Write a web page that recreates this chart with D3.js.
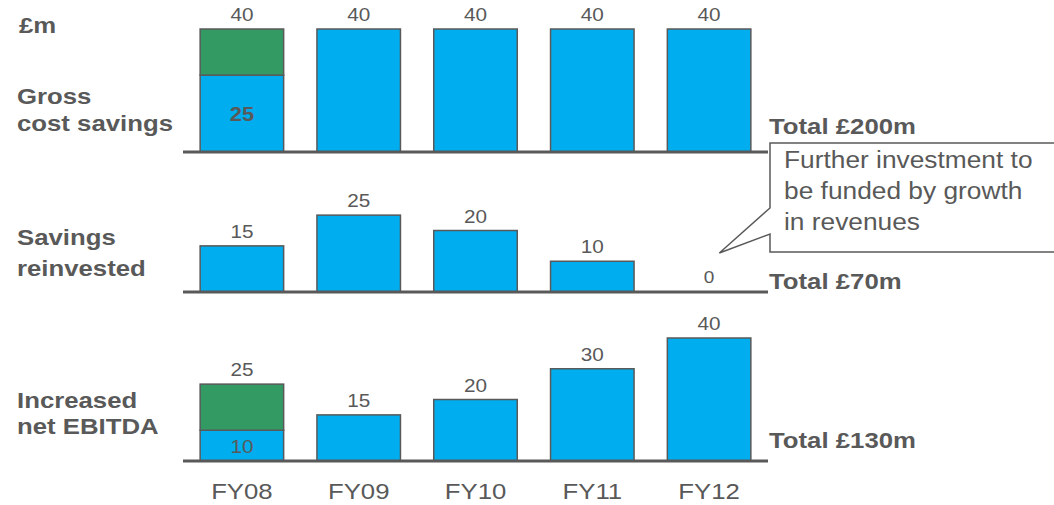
<!DOCTYPE html>
<html>
<head>
<meta charset="utf-8">
<script src="https://cdn.jsdelivr.net/npm/d3@7"></script>
<style>
	body { margin: 0; background: #fff; }
	text { font-family: "Liberation Sans", Arial, sans-serif; fill: #595959; }
</style>
</head>
<body>
<script>
const w = 1054
const h = 505
const stretch = 1.12

// data
const years = ["FY08", "FY09", "FY10", "FY11", "FY12"]
const grossBase = [25, 40, 40, 40, 40]
const grossTop = [15, 0, 0, 0, 0]
const reinvested = [15, 25, 20, 10, 0]
const netBase = [10, 15, 20, 30, 40]
const netTop = [15, 0, 0, 0, 0]
const totals = ["Total £200m", "Total £70m", "Total £130m"]
const rowNames = [["Gross", "cost savings"], ["Savings", "reinvested"], ["Increased", "net EBITDA"]]
const calloutLines = ["Further investment to", "be funded by growth", "in revenues"]

const blue = "#00adee"
const green = "#349a63"
const grey = "#595959"

const svg = d3.select("body").append("svg")
	.attr("width", w)
	.attr("height", h)

let xScale = d3.scaleBand()
	.domain(years)
	.range([183.5, 767.5])
	.paddingInner(0.285)
	.paddingOuter(0.1425)

// same px per £m in every panel
let hScale = d3.scaleLinear()
	.domain([0, 40])
	.range([0, 123])

let label = function(g, x, y, str, size, weight, anchor) {
	return g.append("text")
		.attr("transform", "translate(" + x + "," + y + ") scale(" + stretch + ",1)")
		.attr("font-size", size)
		.attr("font-weight", weight || "normal")
		.attr("text-anchor", anchor || "start")
		.text(str)
}

let panels = [
	{ base: 152, low: grossBase, high: grossTop, inner: { i: 0, text: "25", weight: "bold", size: 19.5 } },
	{ base: 292, low: reinvested, high: [0, 0, 0, 0, 0] },
	{ base: 461, low: netBase, high: netTop, inner: { i: 0, text: "10", weight: "normal", size: 18.5 } }
]
let nameY = [[104, 131], [245, 276], [408, 434]]
let totalY = [134, 289, 448]

panels.forEach(function(p, k) {
	let g = svg.append("g")
	let rows = years.map((y, i) => ({ year: y, low: p.low[i], high: p.high[i] }))

	// lower segments
	g.selectAll("rect.low")
		.data(rows.filter(d => d.low > 0))
		.enter()
		.append("rect")
		.attr("x", d => xScale(d.year))
		.attr("y", d => p.base - hScale(d.low))
		.attr("width", xScale.bandwidth())
		.attr("height", d => hScale(d.low))
		.attr("fill", blue)
		.attr("stroke", grey)
		.attr("stroke-width", 1.5)

	// upper (green) segments
	g.selectAll("rect.high")
		.data(rows.filter(d => d.high > 0))
		.enter()
		.append("rect")
		.attr("x", d => xScale(d.year))
		.attr("y", d => p.base - hScale(d.low + d.high))
		.attr("width", xScale.bandwidth())
		.attr("height", d => hScale(d.high))
		.attr("fill", green)
		.attr("stroke", grey)
		.attr("stroke-width", 1.5)

	// baseline
	g.append("line")
		.attr("x1", 183).attr("x2", 768)
		.attr("y1", p.base).attr("y2", p.base)
		.attr("stroke", grey)
		.attr("stroke-width", 3)

	// value labels
	rows.forEach(function(d) {
		let v = d.low + d.high
		let cx = xScale(d.year) + xScale.bandwidth() / 2
		if (v > 0) {
			label(g, cx, p.base - hScale(v) - 8, v, 18.5, "normal", "middle")
		} else {
			label(g, cx, p.base - 9, v, 17, "normal", "middle")
		}
	})

	if (p.inner) {
		let d = rows[p.inner.i]
		let cx = xScale(d.year) + xScale.bandwidth() / 2
		let cy = p.base - hScale(d.low) / 2
		label(g, cx, cy + 7, p.inner.text, p.inner.size, p.inner.weight, "middle")
	}

	// row name
	rowNames[k].forEach(function(s, j) {
		label(g, 17, nameY[k][j], s, 23, "bold")
	})

	label(g, 769, totalY[k], totals[k], 23, "bold")
})

label(svg, 19, 33, "£m", 23, "bold")

// x labels
years.forEach(function(y) {
	label(svg, xScale(y) + xScale.bandwidth() / 2, 499, y, 23, "normal", "middle")
})

// callout
let tip = [xScale("FY12") + 52, 253]
svg.append("path")
	.attr("d", "M770,208 L770,143 L1060,143 L1060,252 L770,252 L770,234 L" + tip[0] + "," + tip[1] + " Z")
	.attr("fill", "#fff")
	.attr("stroke", grey)
	.attr("stroke-width", 1.5)

calloutLines.forEach(function(s, i) {
	label(svg, 784, 168 + i * 31, s, 23.5)
})
</script>
</body>
</html>
